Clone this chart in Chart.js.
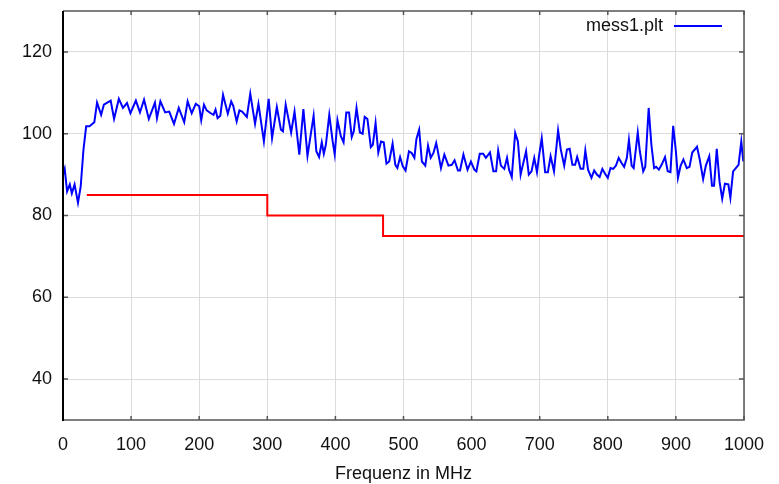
<!DOCTYPE html>
<html>
<head>
<meta charset="utf-8">
<script src="https://cdn.jsdelivr.net/npm/chart.js@4.4.1/dist/chart.umd.min.js"></script>
<style>
  body { margin: 0; background: #fff; }
  canvas { display: block; }
</style>
</head>
<body>
<canvas id="messChart" width="779" height="484"></canvas>
<script>
// Measured level (mess1.plt), frequency in MHz
const freq = [0, 2.5, 6, 10, 13, 17, 22, 26, 30, 34, 39, 46, 50, 56, 60, 70, 75, 82, 88, 94, 99,
  107, 113, 119, 126, 135, 138, 143, 150, 156, 163, 170, 178, 183, 189, 195, 200, 203, 207, 211,
  217, 221, 224, 227, 231, 235, 242, 247, 250, 255, 259, 263, 270, 275, 282, 287, 295, 302, 307,
  314, 320, 323, 327, 335, 340, 347, 353, 359, 368, 372, 376, 380, 383, 386, 391, 396, 399, 403,
  408, 412, 416, 420, 424, 427, 431, 436, 440, 443, 447, 452, 455, 459, 463, 467, 471, 475, 479,
  484, 488, 491, 495, 499, 503, 508, 512, 516, 519, 523, 527, 532, 536, 540, 544, 548, 550, 555,
  560, 566, 571, 575, 580, 583, 588, 594, 599, 604, 607, 612, 617, 621, 627, 632, 636, 639, 643,
  648, 652, 655, 659, 664, 668, 672, 675, 680, 684, 688, 692, 696, 699, 703, 708, 712, 716, 721,
  727, 731, 736, 740, 744, 748, 752, 755, 760, 764, 767, 771, 776, 780, 784, 788, 792, 796, 800,
  804, 808, 812, 816, 820, 824, 828, 831, 835, 838, 844, 847, 852, 855, 860, 864, 868, 871, 875,
  879, 884, 888, 892, 896, 900, 903, 907, 911, 916, 920, 924, 931, 935, 940, 944, 949, 953, 956,
  960, 964, 968, 972, 977, 980, 984, 988, 992, 996, 999];
const level = [90.0, 91.4, 85.9, 87.6, 85.4, 87.6, 83.1, 87.1, 96.0, 101.8, 101.8, 102.8, 107.6, 104.6, 107.1, 108.1, 103.6, 108.5, 106.3, 107.5, 105.0,
  108.1, 105.2, 108.3, 103.6, 107.6, 103.8, 107.9, 105.2, 105.4, 102.4, 106.3, 102.8, 107.9, 105.0, 107.3, 106.7, 103.3, 107.1, 105.7,
  105.0, 104.6, 105.9, 103.8, 104.4, 109.5, 104.9, 107.9, 106.8, 103.0, 105.7, 105.4, 104.1, 109.8, 102.4, 107.3, 98.1, 108.5, 98.9,
  106.5, 101.0, 100.6, 107.1, 100.3, 105.4, 94.9, 106.0, 94.6, 104.4, 95.7, 94.3, 97.9, 95.1, 97.3, 104.6, 98.1, 94.9, 103.3,
  99.4, 97.9, 105.2, 105.2, 99.2, 100.6, 106.3, 100.3, 100.0, 104.1, 103.6, 96.7, 97.3, 102.6, 95.4, 98.1, 97.9, 92.7, 93.2,
  97.6, 92.4, 91.6, 94.3, 92.0, 91.0, 95.7, 95.3, 94.1, 98.7, 101.0, 93.2, 92.2, 97.1, 94.1, 95.3, 97.7, 96.1, 91.6,
  94.9, 92.2, 92.4, 93.5, 91.0, 91.0, 94.9, 91.2, 93.2, 91.2, 90.8, 95.1, 95.1, 94.1, 95.4, 90.8, 90.8, 95.9, 92.2,
  91.4, 94.1, 91.2, 89.4, 100.2, 98.1, 90.0, 92.2, 95.7, 90.0, 90.8, 94.1, 90.6, 94.5, 98.9, 90.6, 90.6, 94.5, 90.8,
  100.8, 96.1, 92.2, 96.1, 96.3, 92.4, 92.4, 94.3, 91.4, 91.4, 95.9, 91.2, 89.2, 91.0, 90.0, 89.4, 91.4, 90.2, 89.2,
  91.6, 91.4, 92.2, 94.1, 92.9, 91.9, 94.1, 98.5, 92.2, 91.6, 100.3, 95.7, 90.8, 91.9, 106.3, 97.3, 91.6, 91.9, 91.2,
  92.4, 94.3, 90.8, 90.6, 101.9, 95.7, 89.2, 92.2, 93.7, 91.6, 91.9, 95.4, 96.8, 93.7, 88.9, 92.2, 94.5, 87.3, 87.3,
  96.3, 88.4, 84.1, 87.8, 87.6, 84.3, 90.8, 91.6, 92.4, 98.1, 93.2];

// Limit line (stepped)
const limitFreq = [35, 300, 300, 470, 470, 1000];
const limitLevel = [85, 85, 80, 80, 75, 75];

// Axis ticks
const xTicks = [0, 100, 200, 300, 400, 500, 600, 700, 800, 900, 1000];
const yTicks = [40, 60, 80, 100, 120];

const fontFamily = "'Liberation Sans', Arial, sans-serif";
const textColor = '#111111';

// Frame around the plot with inward tick marks on all sides
const framePlugin = {
    id: 'frame',
    afterDatasetsDraw(chart) {
        const ctx = chart.ctx;
        const a = chart.chartArea;
        const x = chart.scales.x;
        const y = chart.scales.y;
        ctx.save();
        ctx.lineWidth = 1.5;
        ctx.strokeStyle = '#555555';
        ctx.beginPath();
        ctx.moveTo(a.left, a.top);
        ctx.lineTo(a.right, a.top);
        ctx.lineTo(a.right, a.bottom);
        ctx.lineTo(a.left, a.bottom);
        ctx.stroke();

        ctx.beginPath();
        xTicks.forEach(function (v) {
            const px = x.getPixelForValue(v);
            ctx.moveTo(px, a.bottom);
            ctx.lineTo(px, a.bottom - 4);
            ctx.moveTo(px, a.top);
            ctx.lineTo(px, a.top + 4);
        });
        yTicks.forEach(function (v) {
            const py = y.getPixelForValue(v);
            ctx.moveTo(a.left, py);
            ctx.lineTo(a.left + 5, py);
            ctx.moveTo(a.right, py);
            ctx.lineTo(a.right - 5, py);
        });
        ctx.stroke();

        // left axis is black
        ctx.strokeStyle = '#000000';
        ctx.lineWidth = 2;
        ctx.beginPath();
        ctx.moveTo(a.left, a.top);
        ctx.lineTo(a.left, a.bottom + 1);
        ctx.stroke();
        ctx.restore();
    }
};

// Legend inside the plot, top right: label text, then line sample
const legendPlugin = {
    id: 'insideLegend',
    afterDatasetsDraw(chart) {
        const ds = chart.data.datasets[0];
        const ctx = chart.ctx;
        const a = chart.chartArea;
        const lineEnd = a.right - 22;
        const lineStart = lineEnd - 48;
        const yMid = a.top + 15;
        ctx.save();
        ctx.font = '18px ' + fontFamily;
        ctx.fillStyle = textColor;
        ctx.textAlign = 'right';
        ctx.textBaseline = 'middle';
        ctx.fillText(ds.label, lineStart - 11, yMid);
        ctx.strokeStyle = ds.borderColor;
        ctx.lineWidth = ds.borderWidth;
        ctx.beginPath();
        ctx.moveTo(lineStart, yMid);
        ctx.lineTo(lineEnd, yMid);
        ctx.stroke();
        ctx.restore();
    }
};

const ctx = document.getElementById('messChart').getContext('2d');
const messChart = new Chart(ctx, {
    type: 'line',
    data: {
        datasets: [{
            label: 'mess1.plt',
            data: freq.map((f, i) => ({ x: f, y: level[i] })),
            borderColor: '#0000ff',
            backgroundColor: '#0000ff',
            borderWidth: 2,
            pointRadius: 0,
            tension: 0
        }, {
            label: 'limit',
            data: limitFreq.map((f, i) => ({ x: f, y: limitLevel[i] })),
            borderColor: '#ff0000',
            backgroundColor: '#ff0000',
            borderWidth: 2,
            pointRadius: 0,
            tension: 0
        }]
    },
    options: {
        responsive: false,
        animation: false,
        devicePixelRatio: 1,
        layout: {
            padding: { top: 11, right: 35, left: 0, bottom: 0 }
        },
        scales: {
            x: {
                type: 'linear',
                min: 0,
                max: 1000,
                afterFit: function (scale) {
                    scale.height = 64;
                    scale.paddingLeft = 0;
                    scale.paddingRight = 0;
                },
                afterBuildTicks: function (scale) {
                    scale.ticks = xTicks.map(v => ({ value: v }));
                },
                ticks: {
                    color: textColor,
                    font: { family: fontFamily, size: 18 },
                    padding: 14,
                    maxRotation: 0,
                    autoSkip: false,
                    callback: v => String(v)
                },
                grid: { color: '#dcdcdc', lineWidth: 1, drawTicks: false },
                border: { display: false },
                title: {
                    display: true,
                    text: 'Frequenz in MHz',
                    color: textColor,
                    font: { family: fontFamily, size: 18 },
                    padding: { top: 0, bottom: -1 }
                }
            },
            y: {
                type: 'linear',
                min: 30,
                max: 130,
                afterFit: function (scale) {
                    scale.width = 63;
                    scale.paddingTop = 0;
                    scale.paddingBottom = 0;
                },
                afterBuildTicks: function (scale) {
                    scale.ticks = yTicks.map(v => ({ value: v }));
                },
                ticks: {
                    color: textColor,
                    font: { family: fontFamily, size: 18 },
                    padding: 11
                },
                grid: { color: '#dcdcdc', lineWidth: 1, drawTicks: false },
                border: { display: false }
            }
        },
        plugins: {
            legend: { display: false },
            tooltip: { enabled: false }
        }
    },
    plugins: [framePlugin, legendPlugin]
});
</script>
</body>
</html>
